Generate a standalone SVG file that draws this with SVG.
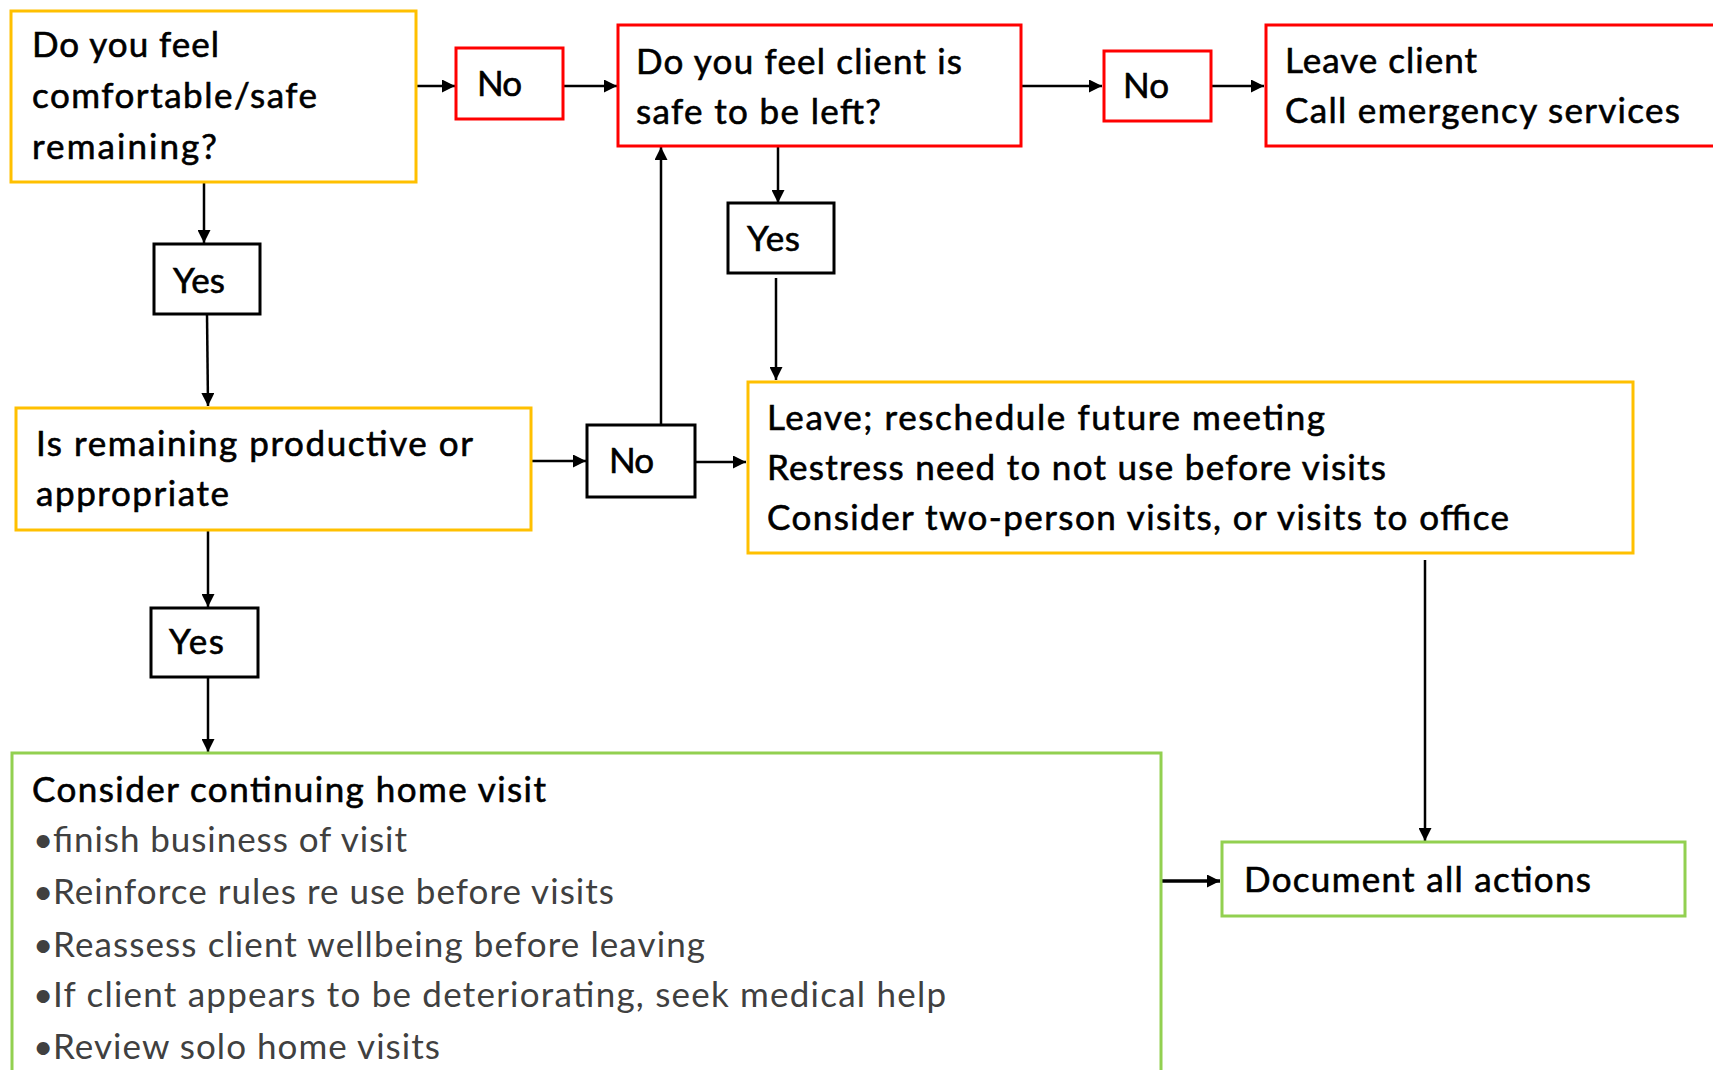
<svg xmlns="http://www.w3.org/2000/svg" width="1713" height="1070" viewBox="0 0 1713 1070">
<style>
.box{fill:#fff;stroke-width:3}
.y{stroke:#FFC000}
.r{stroke:#FF0000}
.g{stroke:#92D050}
.k{stroke:#000}
text{font-family:Lato,"Open Sans","Liberation Sans",sans-serif;font-size:35px;fill:#000;stroke:#000;stroke-width:0.6}
.b{fill:#404040;stroke:none}
.c{stroke:#000;stroke-width:2.5;fill:none;marker-end:url(#ah)}
</style>
<defs>
<marker id="ah" markerUnits="userSpaceOnUse" markerWidth="13" markerHeight="13" viewBox="0 0 12 12" refX="12" refY="6" orient="auto">
<path d="M0,0 L12,6 L0,12 Z" fill="#000"/>
</marker>
</defs>
<rect width="1713" height="1070" fill="#fff"/>
<g id="connectors">
<line class="c" x1="416" y1="86" x2="455" y2="86"/>
<line class="c" x1="563" y1="86" x2="617" y2="86"/>
<line class="c" x1="1021" y1="86" x2="1102" y2="86"/>
<line class="c" x1="1211" y1="86" x2="1264" y2="86"/>
<line class="c" x1="204" y1="182" x2="204" y2="243"/>
<line class="c" x1="207" y1="314" x2="208" y2="406"/>
<line class="c" x1="531" y1="461" x2="586" y2="461"/>
<line class="c" x1="695" y1="462" x2="746" y2="462"/>
<line class="c" x1="661" y1="425" x2="661" y2="147"/>
<line class="c" x1="778" y1="146" x2="778" y2="203"/>
<line class="c" x1="776" y1="278" x2="776" y2="380"/>
<line class="c" x1="208" y1="530" x2="208" y2="607"/>
<line class="c" x1="208" y1="677" x2="208" y2="752"/>
<line class="c" x1="1425" y1="560" x2="1425" y2="841"/>
<line class="c" x1="1162" y1="881" x2="1220" y2="881" style="stroke-width:3.5"/>
</g>
<g id="n1">
<rect class="box y" x="11" y="11" width="405" height="171"/>
<text x="32" y="57" textLength="187">Do you feel</text>
<text x="32" y="108" textLength="285">comfortable/safe</text>
<text x="32" y="159" textLength="185">remaining?</text>
</g>
<g id="no1">
<rect class="box r" x="456" y="48" width="107" height="71"/>
<text x="477" y="96" textLength="45">No</text>
</g>
<g id="n2">
<rect class="box r" x="618" y="25" width="403" height="121"/>
<text x="636" y="74" textLength="326">Do you feel client is</text>
<text x="636" y="124" textLength="245">safe to be left?</text>
</g>
<g id="no2">
<rect class="box r" x="1104" y="51" width="107" height="70"/>
<text x="1123" y="98" textLength="46">No</text>
</g>
<g id="n3">
<rect class="box r" x="1266" y="25" width="460" height="121"/>
<text x="1285" y="73" textLength="192">Leave client</text>
<text x="1285" y="123" textLength="395">Call emergency services</text>
</g>
<g id="yes1">
<rect class="box k" x="154" y="244" width="106" height="70"/>
<text x="173" y="293" textLength="52">Yes</text>
</g>
<g id="yes2">
<rect class="box k" x="728" y="203" width="106" height="70"/>
<text x="747" y="251" textLength="53">Yes</text>
</g>
<g id="n4">
<rect class="box y" x="16" y="408" width="515" height="122"/>
<text x="36" y="456" textLength="437">Is remaining productive or</text>
<text x="36" y="506" textLength="193">appropriate</text>
</g>
<g id="no3">
<rect class="box k" x="587" y="425" width="108" height="72"/>
<text x="609" y="473" textLength="45">No</text>
</g>
<g id="n5">
<rect class="box y" x="748" y="382" width="885" height="171"/>
<text x="767" y="430" textLength="558">Leave; reschedule  future meeting</text>
<text x="767" y="480" textLength="619">Restress need to not use before visits</text>
<text x="767" y="530" textLength="742">Consider  two-person visits,  or visits to office</text>
</g>
<g id="yes3">
<rect class="box k" x="151" y="608" width="107" height="69"/>
<text x="169" y="654" textLength="55">Yes</text>
</g>
<g id="n6">
<rect class="box g" x="12" y="753" width="1149" height="330"/>
<text x="32" y="802" textLength="514">Consider  continuing  home visit</text>
<text class="b" x="33" y="852">•</text>
<text class="b" x="53" y="852" textLength="354">finish business of visit</text>
<text class="b" x="33" y="904">•</text>
<text class="b" x="53" y="904" textLength="561">Reinforce rules re use before visits</text>
<text class="b" x="33" y="957">•</text>
<text class="b" x="53" y="957" textLength="652">Reassess  client wellbeing  before leaving</text>
<text class="b" x="33" y="1007">•</text>
<text class="b" x="53" y="1007" textLength="893">If client appears to be deteriorating,  seek medical help</text>
<text class="b" x="33" y="1059">•</text>
<text class="b" x="53" y="1059" textLength="387">Review solo home visits</text>
</g>
<g id="n7">
<rect class="box g" x="1222" y="842" width="463" height="74"/>
<text x="1244" y="892" textLength="347">Document all actions</text>
</g>
</svg>
